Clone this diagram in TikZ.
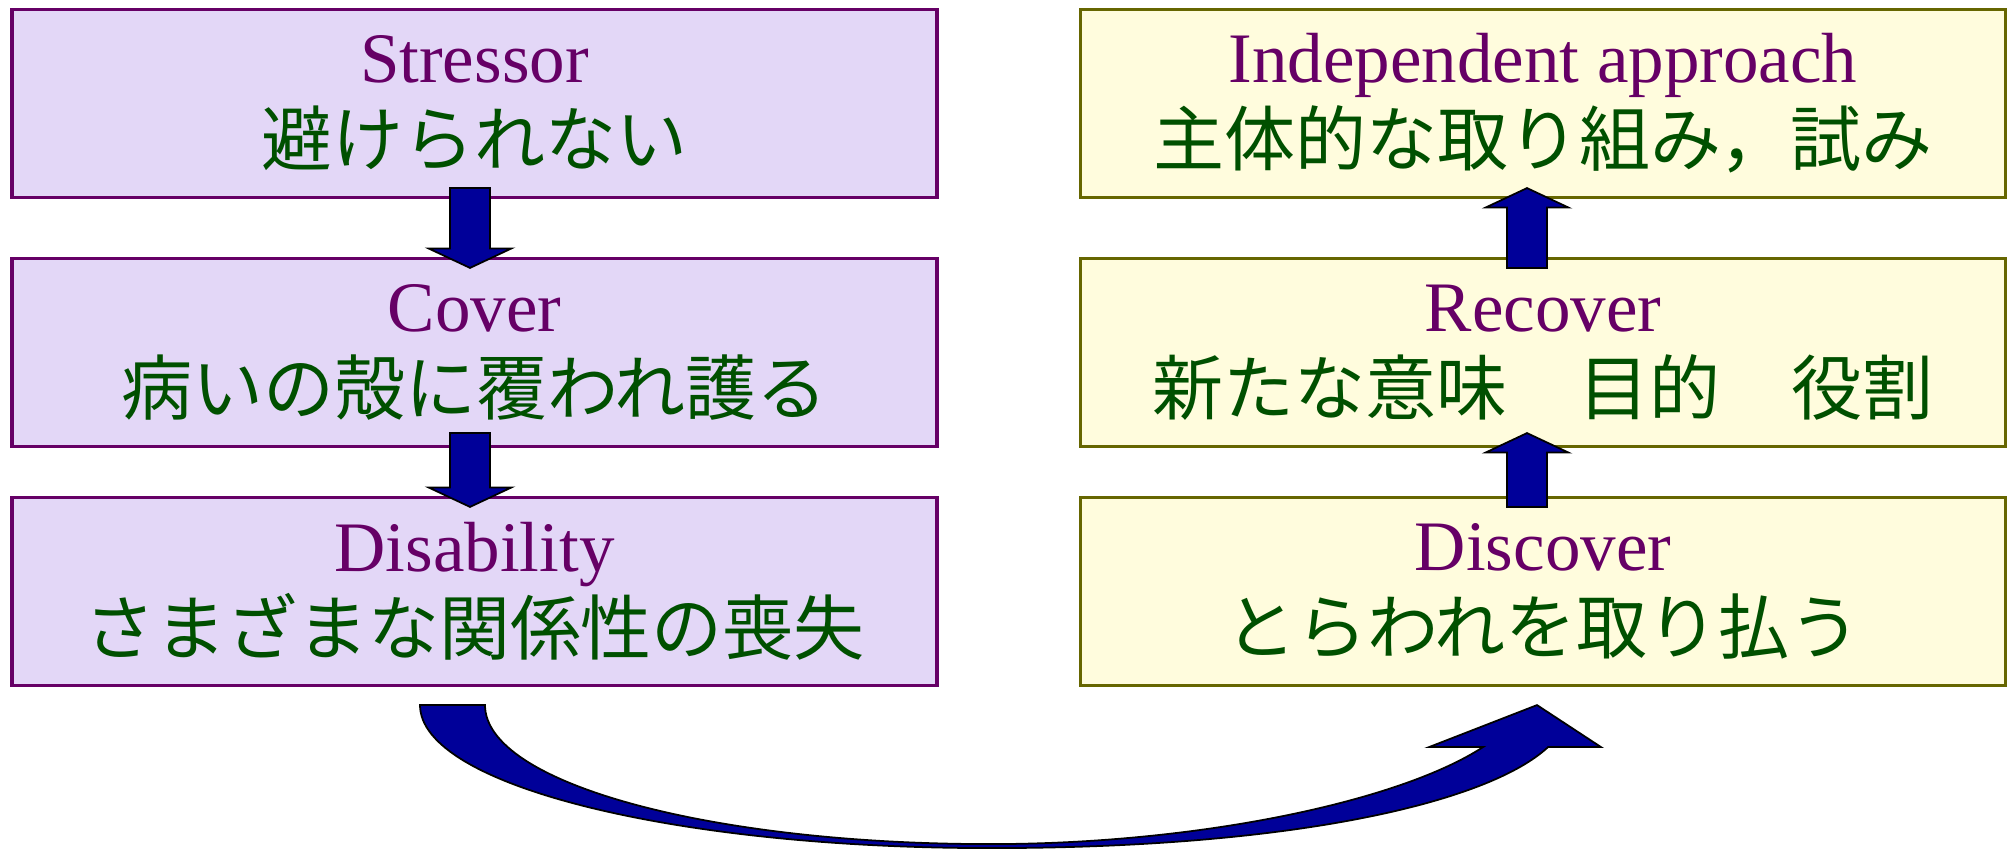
\documentclass[tikz,border=0pt]{standalone}
\usepackage{fontspec}
\setmainfont{Liberation Serif}
\newfontfamily\jpfont{Noto Sans CJK JP}
\usetikzlibrary{positioning,calc}

\definecolor{lilac}{RGB}{227,215,247}
\definecolor{plum}{RGB}{102,0,102}
\definecolor{cream}{RGB}{255,252,221}
\definecolor{boxolive}{RGB}{102,102,0}
\definecolor{leaf}{RGB}{0,80,0}
\definecolor{navy}{RGB}{0,0,153}

\newcommand{\twoline}[2]{\textcolor{plum}{#1}\\{\jpfont\textcolor{leaf}{#2}}}

\begin{document}
\begin{tikzpicture}[%
    node distance=2.49cm,
    on grid,
    box/.style={draw, line width=0.9pt, minimum width=9.25cm, minimum height=1.88cm,
      align=center, font=\fontsize{20.2}{23.6}\selectfont},
    pastbox/.style={box, draw=plum, fill=lilac},
    nextbox/.style={box, draw=boxolive, fill=cream},
    blockarrow/.style={draw=black, line width=0.5pt, fill=navy, line join=miter},
    fat down/.style={blockarrow, to path={let \p1=(\tikztostart), \p2=(\tikztotarget) in
      (\x1-2mm,\y1) -- (\x1-2mm,\y2+1.95mm) -- (\x1-4.15mm,\y2+1.95mm) -- (\x1,\y2)
      -- (\x1+4.15mm,\y2+1.95mm) -- (\x1+2mm,\y2+1.95mm) -- (\x1+2mm,\y1) -- cycle}},
    fat up/.style={blockarrow, to path={let \p1=(\tikztostart), \p2=(\tikztotarget) in
      (\x1-2mm,\y1) -- (\x1-2mm,\y2-1.95mm) -- (\x1-4.15mm,\y2-1.95mm) -- (\x1,\y2)
      -- (\x1+4.15mm,\y2-1.95mm) -- (\x1+2mm,\y2-1.95mm) -- (\x1+2mm,\y1) -- cycle}}
  ]
    \useasboundingbox (0,0) rectangle (20.16,-8.49);

    \node[pastbox] (stressor) at (4.745,-1.035) {\twoline{Stressor}{避けられない}};
    \node[pastbox, below=of stressor] (cover) {\twoline{Cover}{病いの殻に覆われ護る}};
    \node[pastbox, below=2.39 of cover] (disability) {\twoline{Disability}{さまざまな関係性の喪失}};

    \node[nextbox, right=10.685 of stressor] (approach) {\twoline{Independent approach}{主体的な取り組み，試み}};
    \node[nextbox, below=of approach] (recover) {\twoline{Recover}{新たな意味　目的　役割}};
    \node[nextbox, below=2.39 of recover] (discover) {\twoline{Discover}{とらわれを取り払う}};

    \draw[fat down] ([xshift=-0.45mm,yshift=1.1mm]stressor.south) to ([yshift=-1.1mm]cover.north);
    \draw[fat down] ([xshift=-0.45mm,yshift=1.5mm]cover.south) to ([yshift=-1.1mm]disability.north);
    \draw[fat up] ([xshift=-1.6mm,yshift=-1.1mm]discover.north) to ([yshift=1.5mm]recover.south);
    \draw[fat up] ([xshift=-1.6mm,yshift=-1.1mm]recover.north) to ([yshift=1.1mm]approach.south);

    \coordinate (tail) at ([xshift=-2.2mm,yshift=-1.8mm]disability.south);
    \coordinate (tip) at ([xshift=-0.6mm,yshift=-1.8mm]discover.south);
    \draw[blockarrow] ($(tail)+(-0.325,0)$)
      .. controls ($(tail)+(-0.325,-0.80)$) and ($(tail)+(2.205,-1.43)$) .. ($(tail)+(5.375,-1.43)$)
      .. controls ($(tip)+(-2.37,-1.43)$) and ($(tip)+(-0.47,-0.96)$) .. ($(tip)+(0.11,-0.42)$)
      -- ($(tip)+(0.64,-0.42)$) -- (tip) -- ($(tip)+(-1.08,-0.42)$) -- ($(tip)+(-0.54,-0.42)$)
      .. controls ($(tip)+(-1.37,-0.96)$) and ($(tip)+(-3.37,-1.39)$) .. ($(tail)+(5.375,-1.39)$)
      .. controls ($(tail)+(2.565,-1.39)$) and ($(tail)+(0.325,-0.78)$) .. ($(tail)+(0.325,0)$)
      -- cycle;
  \end{tikzpicture}
\end{document}
